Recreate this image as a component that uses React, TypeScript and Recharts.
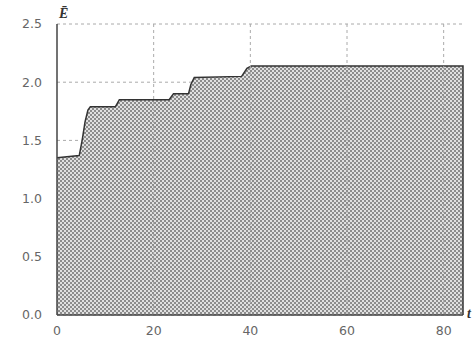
import React from 'react';
import { AreaChart, Area, XAxis, YAxis, CartesianGrid, ReferenceLine } from 'recharts';

// step-like energy curve
const times = [0, 4.6, 5.2, 5.8, 6.4, 6.9, 12.1, 12.9, 23.2, 24.1, 27.2, 27.7, 28.4, 38.2, 39.3, 40.2, 84, 84];
const energy = [1.35, 1.37, 1.5, 1.66, 1.76, 1.79, 1.79, 1.85, 1.85, 1.9, 1.9, 1.98, 2.04, 2.05, 2.12, 2.14, 2.14, 0];

const xTicks = [0, 20, 40, 60, 80];
const yTicks = [0, 0.5, 1.0, 1.5, 2.0, 2.5];

const data = times.map((t, i) => ({ t, e: energy[i] }));

const tickStyle = { fontFamily: 'DejaVu Sans', fontSize: 12.5, fill: '#666' };

const EnergyChart: React.FC = () => {
  return (
    <div style={{ position: 'absolute', left: 0, top: 0, width: 475, height: 344, background: '#fff' }}>
      <AreaChart width={475} height={344} data={data} margin={{ top: 24, right: 12, left: 0, bottom: 0 }}>
        <defs>
          <pattern id="checker" width="4" height="4" patternUnits="userSpaceOnUse">
            <rect x="0" y="0" width="4" height="4" fill="#e0e0e0" />
            <rect x="0" y="0" width="2" height="2" fill="#8c8c8c" />
            <rect x="2" y="2" width="2" height="2" fill="#8c8c8c" />
          </pattern>
        </defs>
        <CartesianGrid strokeDasharray="3 3" stroke="#aaa" vertical={false} horizontalValues={yTicks} />
        {xTicks.slice(1).map((t) => (
          <ReferenceLine key={t} x={t} stroke="#aaa" strokeDasharray="3 3" />
        ))}
        <XAxis
          type="number"
          dataKey="t"
          domain={[0, 84]}
          ticks={xTicks}
          tickLine={false}
          tickMargin={5}
          height={29}
          axisLine={{ stroke: '#444', strokeWidth: 1.5 }}
          tick={tickStyle}
        />
        <YAxis
          type="number"
          domain={[0, 2.5]}
          ticks={yTicks}
          tickFormatter={(v: number) => v.toFixed(1)}
          tickLine={false}
          tickMargin={9}
          width={57}
          axisLine={{ stroke: '#444', strokeWidth: 1.5 }}
          tick={tickStyle}
        />
        <Area
          type="linear"
          dataKey="e"
          stroke="#333"
          strokeWidth={1.5}
          fill="url(#checker)"
          fillOpacity={1}
          isAnimationActive={false}
        />
      </AreaChart>
      <div style={{ position: 'absolute', left: 59, top: 6, fontFamily: 'Liberation Serif', fontStyle: 'italic', fontWeight: 'bold', fontSize: 14, color: '#333' }}>
        Ē
      </div>
      <div style={{ position: 'absolute', left: 467, top: 306, fontFamily: 'Liberation Serif', fontStyle: 'italic', fontWeight: 'bold', fontSize: 14, color: '#333' }}>
        t
      </div>
    </div>
  );
};

export default EnergyChart;
